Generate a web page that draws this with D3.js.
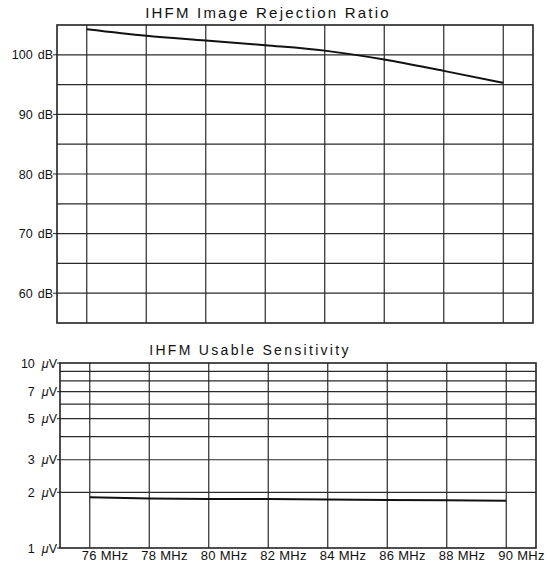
<!DOCTYPE html>
<html>
<head>
<meta charset="utf-8">
<script src="https://cdn.jsdelivr.net/npm/d3@7"></script>
<style>
  body { margin: 0; background: #fff; }
  svg { display: block; font-family: "Liberation Sans", Arial, sans-serif; }
  .title { font-size: 15px; letter-spacing: 2.2px; fill: #111; }
  .lbl { font-size: 12.5px; fill: #111; }
  .grid line { stroke: #2a2a2a; stroke-width: 1.2; }
</style>
</head>
<body>
<div id="chart"></div>
<script>
"use strict";

// frequency points (MHz) shared by both panels
var freqs = [76, 78, 80, 82, 84, 86, 88, 90];

// image rejection ratio, dB
var rejection = [104.3, 103.2, 102.4, 101.6, 100.7, 99.2, 97.3, 95.3];
var dbTicks = [60, 70, 80, 90, 100];
var dbGrid = [60, 65, 70, 75, 80, 85, 90, 95, 100];

// usable sensitivity, microvolts
var sensitivity = [1.88, 1.85, 1.84, 1.84, 1.83, 1.82, 1.81, 1.80];
var uvTicks = [1, 2, 3, 5, 7, 10];
var uvGrid = [2, 3, 4, 5, 6, 7, 8, 9];

var W = 550, H = 564;
var svg = d3.select("#chart").append("svg")
    .attr("width", W)
    .attr("height", H);

// ---- top panel ----
var upper = { left: 57, right: 533, top: 25, bottom: 323 };
var x1 = d3.scaleLinear().domain([75, 91]).range([upper.left, upper.right]);
var y1 = d3.scaleLinear().domain([55, 105]).range([upper.bottom, upper.top]);

svg.append("text")
    .attr("class", "title")
    .attr("x", 268)
    .attr("y", 18)
    .attr("text-anchor", "middle")
    .text("IHFM Image Rejection Ratio");

var g1 = svg.append("g").attr("class", "grid");
g1.selectAll(".h").data(dbGrid).enter().append("line")
    .attr("x1", upper.left).attr("x2", upper.right)
    .attr("y1", function (d) { return y1(d); })
    .attr("y2", function (d) { return y1(d); });
g1.selectAll(".v").data(freqs).enter().append("line")
    .attr("y1", upper.top).attr("y2", upper.bottom)
    .attr("x1", function (d) { return x1(d); })
    .attr("x2", function (d) { return x1(d); });

svg.append("rect")
    .attr("x", upper.left).attr("y", upper.top)
    .attr("width", upper.right - upper.left)
    .attr("height", upper.bottom - upper.top)
    .attr("fill", "none").attr("stroke", "#222").attr("stroke-width", 1.6);

// y ticks + labels
svg.selectAll(".dbtick").data(dbTicks).enter().append("line")
    .attr("x1", upper.left - 4).attr("x2", upper.left)
    .attr("y1", function (d) { return y1(d); })
    .attr("y2", function (d) { return y1(d); })
    .attr("stroke", "#222");
var dbLbl = svg.selectAll(".dblbl").data(dbTicks).enter().append("text")
    .attr("class", "lbl")
    .attr("x", upper.left - 4)
    .attr("y", function (d) { return y1(d) + 4.5; })
    .attr("text-anchor", "end");
dbLbl.append("tspan").text(function (d) { return d; });
dbLbl.append("tspan").attr("dx", 5).text("dB");

var line1 = d3.line()
    .x(function (d, i) { return x1(freqs[i]); })
    .y(function (d) { return y1(d); })
    .curve(d3.curveMonotoneX);
svg.append("path")
    .datum(rejection)
    .attr("d", line1)
    .attr("fill", "none")
    .attr("stroke", "#111")
    .attr("stroke-width", 2);

// ---- bottom panel ----
var lower = { left: 60, right: 536, top: 363, bottom: 548 };
var x2 = d3.scaleLinear().domain([75, 91]).range([lower.left, lower.right]);
var y2 = d3.scaleLog().domain([1, 10]).range([lower.bottom, lower.top]);

svg.append("text")
    .attr("class", "title")
    .attr("x", 250)
    .attr("y", 355)
    .attr("text-anchor", "middle")
    .style("font-size", "14px")
    .style("letter-spacing", "2.3px")
    .text("IHFM Usable Sensitivity");

var g2 = svg.append("g").attr("class", "grid");
g2.selectAll(".h").data(uvGrid).enter().append("line")
    .attr("x1", lower.left).attr("x2", lower.right)
    .attr("y1", function (d) { return y2(d); })
    .attr("y2", function (d) { return y2(d); });
g2.selectAll(".v").data(freqs).enter().append("line")
    .attr("y1", lower.top).attr("y2", lower.bottom)
    .attr("x1", function (d) { return x2(d); })
    .attr("x2", function (d) { return x2(d); });

svg.append("rect")
    .attr("x", lower.left).attr("y", lower.top)
    .attr("width", lower.right - lower.left)
    .attr("height", lower.bottom - lower.top)
    .attr("fill", "none").attr("stroke", "#222").attr("stroke-width", 1.6);

svg.selectAll(".uvtick").data(uvTicks).enter().append("line")
    .attr("x1", lower.left - 3).attr("x2", lower.left)
    .attr("y1", function (d) { return y2(d); })
    .attr("y2", function (d) { return y2(d); })
    .attr("stroke", "#222");
var uvLbl = svg.selectAll(".uvlbl").data(uvTicks).enter().append("text")
    .attr("class", "lbl")
    .attr("x", lower.left - 3)
    .attr("y", function (d) { return y2(d) + 4.5; })
    .attr("text-anchor", "end");
uvLbl.append("tspan").text(function (d) { return d; });
uvLbl.append("tspan").attr("dx", 7).style("font-style", "italic").text("\u03bc");
uvLbl.append("tspan").text("V");

svg.selectAll(".mhz").data(freqs).enter().append("text")
    .attr("class", "lbl")
    .attr("x", function (d) { return x2(d) - 8; })
    .attr("y", 560)
    .style("font-size", "13px")
    .style("letter-spacing", "0.3px")
    .text(function (d) { return d + " MHz"; });

var line2 = d3.line()
    .x(function (d, i) { return x2(freqs[i]); })
    .y(function (d) { return y2(d); });
svg.append("path")
    .datum(sensitivity)
    .attr("d", line2)
    .attr("fill", "none")
    .attr("stroke", "#111")
    .attr("stroke-width", 2);
</script>
</body>
</html>
